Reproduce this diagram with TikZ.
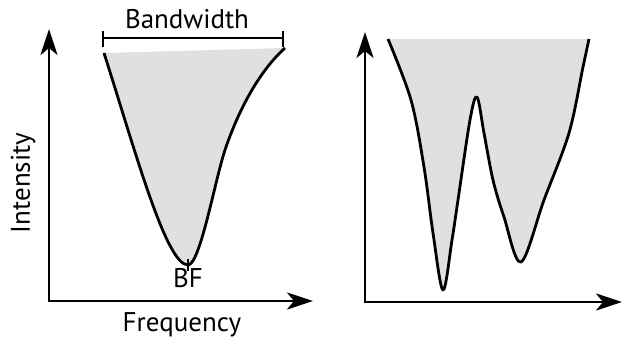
\documentclass[tikz,border=0pt]{standalone}
\usepackage{fontspec}
\setmainfont{PT Sans}
\usetikzlibrary{arrows.meta}
\definecolor{fillgray}{HTML}{E0E0E0}
\tikzset{
  axis/.style={line width=2.8pt,-{Stealth[length=26pt,width=17pt,inset=7pt]}},
  curve/.style={line width=2.8pt,line join=round},
  lbl/.style={font=\fontsize{27}{30}\selectfont,inner sep=0pt}
}
\begin{document}
\begin{tikzpicture}[x=1pt,y=-1pt]
\useasboundingbox (0,0) rectangle (622,343);
% left plot
\coordinate (o1) at (49,301);
\coordinate (y1) at (49,29);
\coordinate (x1) at (313,301);
\def\leftcurve{(104,53) .. controls (135,150) and (166,265) .. (188,265) .. controls (200,265) and (215,180) .. (225,150) .. controls (235,120) and (255,75) .. (285,48)}
\fill[fillgray] \leftcurve -- cycle;
\draw[curve] \leftcurve;
\draw[line width=1.6pt] (188,259) -- (188,271);
\draw[axis] (o1) -- (y1);
\draw[axis] ([xshift=-1.4pt]o1) -- (x1);
% bandwidth bracket
\coordinate (bl) at (103,38);
\coordinate (br) at (283,38);
\draw[line width=2.4pt] (bl) -- (br);
\draw[line width=2.4pt] ([yshift=-9pt]bl) -- ([yshift=7pt]bl);
\draw[line width=2.4pt] ([yshift=-9pt]br) -- ([yshift=7pt]br);
\node[lbl] (bw) at (187,19) {Bandwidth};
\node[lbl] (bf) at (188,278) {BF};
\node[lbl] (fr) at (182,325) {Frequency};
\node[lbl,rotate=90] (in) at (23,183) {Intensity};
% right plot
\coordinate (o2) at (365,302);
\coordinate (y2) at (365,32);
\coordinate (x2) at (622,302);
\def\rightcurve{plot[smooth,tension=0.55] coordinates {(388,39) (411,100) (424,167) (433,233) (443,290) (452,240) (458,200) (470,120) (477,97) (484,133) (493,180) (504,217) (521,262) (544,200) (569,133) (583,67) (589,39)}}
\fill[fillgray] \rightcurve -- cycle;
\draw[curve] \rightcurve;
\draw[axis] (o2) -- (y2);
\draw[axis] ([xshift=-1.4pt]o2) -- (x2);
\end{tikzpicture}
\end{document}
